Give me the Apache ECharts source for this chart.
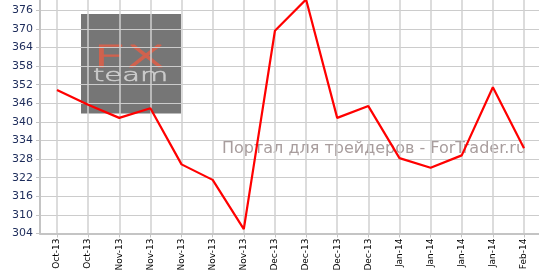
<!DOCTYPE html>
<html>
<head>
<meta charset="utf-8">
<script src="https://cdn.jsdelivr.net/npm/echarts@6/dist/echarts.min.js"></script>
<style>
html,body{margin:0;padding:0;background:#fff;}
#chart{width:539px;height:277px;}
</style>
</head>
<body>
<div id="chart"></div>
<script>
var categories = ['Oct-13','Oct-13','Nov-13','Nov-13','Nov-13','Nov-13','Nov-13','Dec-13','Dec-13','Dec-13','Dec-13','Jan-14','Jan-14','Jan-14','Jan-14','Feb-14'];
var values = [350.3, 345.5, 341.3, 344.4, 326.3, 321.3, 305.4, 369.4, 379.5, 341.3, 345.1, 328.3, 325.2, 329.2, 351.2, 331.5];
var yMin = 304, yMax = 379.32, yStep = 6;
var watermarkText = 'Портал для трейдеров - ForTrader.ru';

var chart = echarts.init(document.getElementById('chart'), null, {renderer: 'canvas'});
var option = {
  animation: false,
  backgroundColor: '#ffffff',
  grid: [
    {left: 40, right: 0, top: 0, bottom: 43.5},
    {left: 57, right: 15, top: 0, bottom: 43.5}
  ],
  xAxis: [
    {
      gridIndex: 0, type: 'value', min: 0, max: 1,
      axisLine: {show: true, onZero: false, lineStyle: {color: '#c4c4c4', width: 2}},
      axisTick: {show: false}, axisLabel: {show: false}, splitLine: {show: false}
    },
    {
      gridIndex: 1, type: 'category', data: categories, boundaryGap: false,
      axisLine: {show: false},
      axisTick: {show: true, length: 4, lineStyle: {color: '#c4c4c4', width: 1}},
      axisLabel: {rotate: 90, margin: 5, color: '#000', fontFamily: 'DejaVu Sans', fontSize: 9, interval: 0},
      splitLine: {show: true, interval: 0, lineStyle: {color: '#d0d0d0', width: 1.5}}
    }
  ],
  yAxis: [
    {
      gridIndex: 0, type: 'value', min: yMin, max: yMax, interval: yStep,
      axisLine: {show: true, lineStyle: {color: '#c4c4c4', width: 2}},
      axisTick: {show: true, length: 4, lineStyle: {color: '#c4c4c4'}},
      axisLabel: {margin: 7, color: '#1c2b5a', fontFamily: 'DejaVu Sans', fontSize: 11, showMaxLabel: false},
      splitLine: {show: true, showMaxLine: false, lineStyle: {color: '#cccccc', width: 1}}
    },
    {
      gridIndex: 1, type: 'value', min: yMin, max: yMax, interval: yStep, show: false,
      splitLine: {show: false}
    }
  ],
  graphic: [
    {type: 'rect', z: -10, shape: {x: 81, y: 14, width: 100, height: 99.5}, style: {fill: '#767676'}},
    {type: 'text', z: -9, x: 93, y: 43, scaleX: 1.85, scaleY: 1,
      style: {text: 'FX', fill: '#d0624e', stroke: '#d0624e', lineWidth: 1.1, font: '200 31px "DejaVu Sans"', textVerticalAlign: 'top'}},
    {type: 'text', z: -9, x: 93, y: 68, scaleX: 1.45, scaleY: 0.85,
      style: {text: 'team', fill: '#cccccc', stroke: '#cccccc', lineWidth: 0.6, font: '200 20px "DejaVu Sans"', textVerticalAlign: 'top'}},
    {type: 'text', z: -9, x: 222, y: 149,
      style: {text: watermarkText, fill: '#a89d9d', font: '16px "DejaVu Sans"', textVerticalAlign: 'middle'}}
  ],
  series: [
    {
      type: 'line', xAxisIndex: 1, yAxisIndex: 1, data: values,
      showSymbol: false, symbol: 'none', clip: false,
      lineStyle: {color: '#ff0000', width: 2.2},
      z: 5
    }
  ]
};
chart.setOption(option);
</script>
</body>
</html>
